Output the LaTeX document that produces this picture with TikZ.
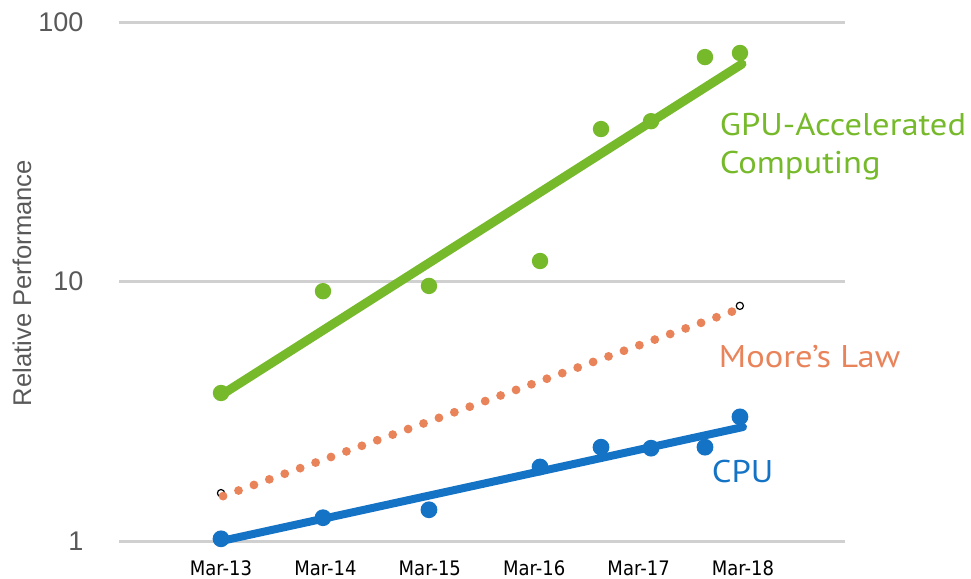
\documentclass[tikz,border=0pt]{standalone}
\usepackage{fontspec}
\setmainfont{Liberation Sans}
\newfontfamily\monthfont[FakeStretch=0.9]{DejaVu Sans}
\newfontfamily\seriesfont[FakeStretch=1.1]{PT Sans}

\definecolor{gpugreen}{RGB}{118,185,42}
\definecolor{cpublue}{RGB}{21,115,198}
\definecolor{mooreorange}{RGB}{233,131,90}
\definecolor{gridgray}{RGB}{208,208,208}
\definecolor{labelgray}{RGB}{89,89,89}

\begin{document}
\begin{tikzpicture}[x=52.2pt, y=129.75pt, line width=0.9pt]
        % x: years after Mar-13, y: log10 of relative performance
        \useasboundingbox (-2.117,-0.1426) rectangle (7.184,2.085);

        % Grid lines and y tick labels
        \foreach \e/\lab in {0/1,1/10,2/100} {
            \draw[gridgray, line width=1.5pt] (-0.977,\e) -- (5.977,\e);
            \node[anchor=east, text=labelgray, font=\fontsize{13.5}{16}\selectfont] (tick\lab) at (-1.245,\e) {\lab};
        }
        \node[rotate=90, text=labelgray, font=\fontsize{12.8}{15}\selectfont] (ylabel) at (-1.906,0.994) {Relative Performance};

        % Month labels along the bottom
        \foreach \m [count=\i from 0] in {13,14,15,16,17,18} {
            \node[font=\monthfont\fontsize{10}{12}\selectfont] (mar\m) at (\i,-0.104) {Mar-\m};
        }

        % Moore's law reference (dotted)
        \draw[black, line width=0.6pt] (0,{log10(1.53)}) circle (1.8pt);
        \draw[black, line width=0.6pt] (4.97,{log10(8.06)}) circle (1.8pt);
        \draw[mooreorange, line width=4.4pt, line cap=round, dash pattern=on 0pt off 8.2pt] (0.02,{log10(1.49)}) -- (4.96,{log10(7.83)});

        % GPU measurements and trend
        \foreach \t/\v in {0/3.72, 0.977/9.18, 1.992/9.62, 3.056/12.0, 3.640/38.7, 4.119/41.5, 4.636/73.3, 4.971/76.0} {
            \fill[gpugreen] (\t,{log10(\v)}) circle (4.1pt);
        }
        \draw[gpugreen, line width=4.5pt, line cap=round] (0,{log10(3.65)}) -- (4.99,{log10(68.9)});

        % CPU measurements and trend
        \foreach \t/\v in {0/1.02, 0.977/1.23, 1.992/1.32, 3.056/1.93, 3.640/2.30, 4.119/2.28, 4.636/2.30, 4.971/3.01} {
            \fill[cpublue] (\t,{log10(\v)}) circle (4.2pt);
        }
        \draw[cpublue, line width=4pt, line cap=round] (0,0) -- (5,{log10(2.75)});

        % Series names (base anchor sits on the last line)
        \node[anchor=base west, inner sep=0pt, align=left, text=gpugreen, font=\seriesfont\fontsize{15.7}{19}\selectfont] (gpulabel) at (4.770,1.418) {GPU-Accelerated\\Computing};
        \node[anchor=base west, inner sep=0pt, text=mooreorange, font=\seriesfont\fontsize{15.7}{19}\selectfont] (moorelabel) at (4.761,0.667) {Moore’s Law};
        \node[anchor=base west, inner sep=0pt, text=cpublue, font=\seriesfont\fontsize{15.7}{19}\selectfont] (cpulabel) at (4.693,0.227) {CPU};
\end{tikzpicture}
\end{document}
